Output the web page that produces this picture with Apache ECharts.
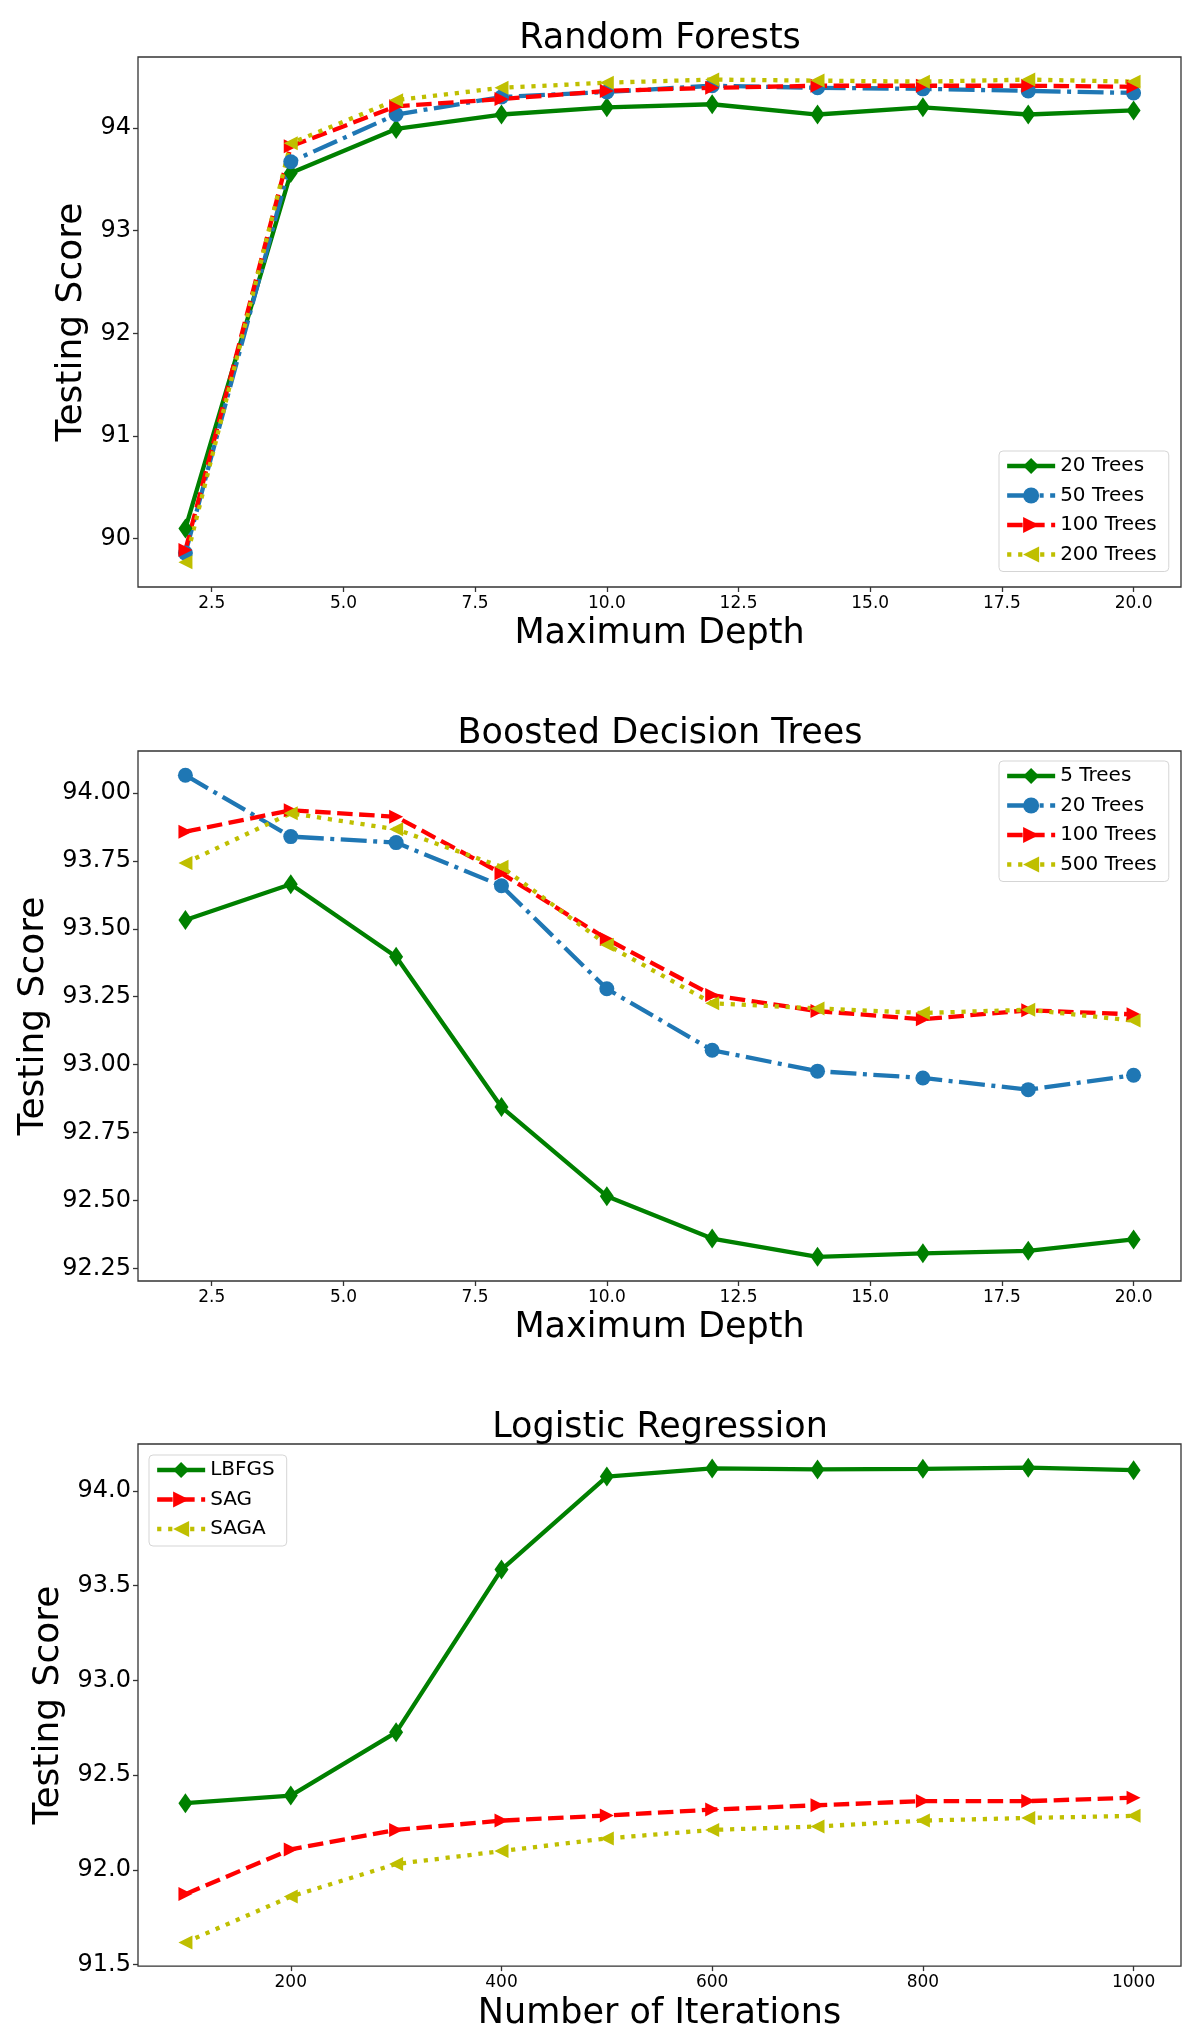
<!DOCTYPE html>
<html>
<head>
<meta charset="utf-8">
<title>Testing Score</title>
<script src="https://cdn.jsdelivr.net/npm/echarts@6/dist/echarts.min.js"></script>
<style>
    body { margin: 0; background: #fff; }
    .chart { position: absolute; left: 0; width: 1200px; }
</style>
</head>
<body>
<div id="rfChart" class="chart" style="top:0;height:680px"></div>
<div id="bdtChart" class="chart" style="top:680px;height:690px"></div>
<div id="lrChart" class="chart" style="top:1370px;height:666px"></div>
<script>
// ---------- data ----------
var depths = [2, 4, 6, 8, 10, 12, 14, 16, 18, 20];
var iterations = [100, 200, 300, 400, 500, 600, 700, 800, 900, 1000];

// Random Forests
var rf20 = [90.10, 93.56, 93.99, 94.13, 94.20, 94.23, 94.13, 94.20, 94.13, 94.17];
var rf50 = [89.86, 93.67, 94.13, 94.30, 94.35, 94.41, 94.39, 94.38, 94.36, 94.34];
var rf100 = [89.89, 93.82, 94.21, 94.28, 94.36, 94.39, 94.41, 94.41, 94.41, 94.40];
var rf200 = [89.77, 93.85, 94.27, 94.39, 94.44, 94.47, 94.46, 94.45, 94.47, 94.45];

// Boosted Decision Trees
var bdt5 = [93.532, 93.664, 93.397, 92.844, 92.516, 92.360, 92.293, 92.306, 92.315, 92.357];
var bdt20 = [94.065, 93.839, 93.817, 93.658, 93.279, 93.053, 92.976, 92.951, 92.908, 92.961];
var bdt100 = [93.857, 93.936, 93.912, 93.704, 93.462, 93.256, 93.197, 93.167, 93.200, 93.185];
var bdt500 = [93.742, 93.925, 93.866, 93.728, 93.441, 93.226, 93.207, 93.190, 93.202, 93.162];

// Logistic Regression
var lbfgs = [92.352, 92.392, 92.726, 93.585, 94.076, 94.119, 94.114, 94.117, 94.123, 94.110];
var sag = [91.872, 92.108, 92.211, 92.260, 92.287, 92.318, 92.341, 92.363, 92.363, 92.381];
var saga = [91.617, 91.859, 92.031, 92.099, 92.166, 92.211, 92.229, 92.260, 92.274, 92.285];

// tick labels
var depthTicks = [2.5, 5.0, 7.5, 10.0, 12.5, 15.0, 17.5, 20.0];
var iterTicks = [200, 400, 600, 800, 1000];
var rfScoreTicks = [90, 91, 92, 93, 94];
var bdtScoreTicks = [92.25, 92.50, 92.75, 93.00, 93.25, 93.50, 93.75, 94.00];
var lrScoreTicks = [91.5, 92.0, 92.5, 93.0, 93.5, 94.0];

// ---------- styles ----------
var FONT = 'DejaVu Sans';
var GREEN = '#008000', BLUE = '#1f77b4', RED = '#ff0000', YELLOW = '#bfbf00';
var DIAMOND = 'path://M0,-10L6.5,0L0,10L-6.5,0Z';
var RIGHT_TRI = 'path://M-10,-10L10,0L-10,10Z';
var LEFT_TRI = 'path://M10,-10L-10,0L10,10Z';

var styles = {
    green: { color: GREEN, symbol: DIAMOND, size: [14, 20], dash: 'solid' },
    blue: { color: BLUE, symbol: 'circle', size: 15, dash: [26, 6.5, 4, 6.5] },
    red: { color: RED, symbol: RIGHT_TRI, size: 14, dash: [15.5, 6.5] },
    yellow: { color: YELLOW, symbol: LEFT_TRI, size: 14, dash: [4.2, 6.8] }
};

function makeSeries(name, xs, ys, st) {
    return {
        type: 'line',
        name: name,
        data: xs.map(function (x, i) { return [x, ys[i]]; }),
        symbol: st.symbol,
        symbolSize: st.size,
        showAllSymbol: true,
        itemStyle: { color: st.color },
        lineStyle: { color: st.color, width: 4.3, type: st.dash },
        emphasis: { disabled: true }
    };
}

function makeAxis(opt) {
    return {
        type: 'value',
        min: opt.min,
        max: opt.max,
        name: opt.name,
        nameLocation: 'middle',
        nameGap: opt.nameGap,
        nameTextStyle: { fontSize: opt.nameSize, color: '#000', fontFamily: FONT },
        axisLine: { show: false },
        splitLine: { show: false },
        axisTick: {
            show: true,
            length: 5,
            customValues: opt.ticks,
            lineStyle: { color: '#333', width: 1.3 }
        },
        axisLabel: {
            customValues: opt.ticks,
            formatter: function (v) { return Number(v).toFixed(opt.digits); },
            fontSize: opt.fontSize,
            color: '#000',
            fontFamily: FONT,
            margin: opt.margin
        }
    };
}

function makeOption(cfg) {
    return {
        animation: false,
        title: {
            text: cfg.title,
            left: 660,
            top: cfg.titleTop,
            textAlign: 'center',
            padding: 0,
            textStyle: { fontSize: 35, fontWeight: 'normal', color: '#000', fontFamily: FONT, lineHeight: 40 }
        },
        grid: {
            left: 138,
            top: cfg.gridTop,
            width: 1043,
            height: cfg.gridHeight,
            show: true,
            borderColor: '#333',
            borderWidth: 1.3,
            backgroundColor: 'transparent'
        },
        legend: {
            orient: 'vertical',
            left: cfg.legendLeft,
            top: cfg.legendTop,
            data: cfg.series.map(function (s) { return s.name; }),
            itemWidth: 48,
            itemHeight: 20,
            itemGap: 9.5,
            padding: [5, 12, 7, 6],
            backgroundColor: '#fff',
            borderColor: '#d5d5d5',
            borderWidth: 1,
            borderRadius: 4,
            selectedMode: false,
            lineStyle: { width: 4.3 },
            textStyle: { fontSize: 20, color: '#000', fontFamily: FONT, lineHeight: 20 }
        },
        xAxis: makeAxis(cfg.x),
        yAxis: makeAxis(cfg.y),
        series: cfg.series
    };
}

/* ---------- Random Forests ---------- */
var rfChart = echarts.init(document.getElementById('rfChart'));
rfChart.setOption(makeOption({
    title: 'Random Forests',
    titleTop: 18.5,
    gridTop: 57,
    gridHeight: 530,
    legendLeft: 999,
    legendTop: 451,
    x: { min: 1.1, max: 20.9, ticks: depthTicks, digits: 1, fontSize: 17, margin: 8, name: 'Maximum Depth', nameGap: 28, nameSize: 35 },
    y: { min: 89.53, max: 94.69, ticks: rfScoreTicks, digits: 0, fontSize: 24, margin: 7, name: 'Testing Score', nameGap: 42, nameSize: 36 },
    series: [
        makeSeries('20 Trees', depths, rf20, styles.green),
        makeSeries('50 Trees', depths, rf50, styles.blue),
        makeSeries('100 Trees', depths, rf100, styles.red),
        makeSeries('200 Trees', depths, rf200, styles.yellow)
    ]
}));

/* ---------- Boosted Decision Trees ---------- */
var bdtChart = echarts.init(document.getElementById('bdtChart'));
bdtChart.setOption(makeOption({
    title: 'Boosted Decision Trees',
    titleTop: 33.5,
    gridTop: 71,
    gridHeight: 530,
    legendLeft: 999,
    legendTop: 81,
    x: { min: 1.1, max: 20.9, ticks: depthTicks, digits: 1, fontSize: 17, margin: 8, name: 'Maximum Depth', nameGap: 28, nameSize: 35 },
    y: { min: 92.204, max: 94.154, ticks: bdtScoreTicks, digits: 2, fontSize: 24, margin: 7, name: 'Testing Score', nameGap: 80, nameSize: 36 },
    series: [
        makeSeries('5 Trees', depths, bdt5, styles.green),
        makeSeries('20 Trees', depths, bdt20, styles.blue),
        makeSeries('100 Trees', depths, bdt100, styles.red),
        makeSeries('500 Trees', depths, bdt500, styles.yellow)
    ]
}));

/* ---------- Logistic Regression ---------- */
var lrChart = echarts.init(document.getElementById('lrChart'));
lrChart.setOption(makeOption({
    title: 'Logistic Regression',
    titleTop: 37.5,
    gridTop: 74,
    gridHeight: 531,
    legendLeft: 149,
    legendTop: 85,
    x: { min: 55, max: 1045, ticks: iterTicks, digits: 0, fontSize: 17, margin: 8, name: 'Number of Iterations', nameGap: 28, nameSize: 35 },
    y: { min: 91.492, max: 94.248, ticks: lrScoreTicks, digits: 1, fontSize: 24, margin: 7, name: 'Testing Score', nameGap: 66, nameSize: 36 },
    series: [
        makeSeries('LBFGS', iterations, lbfgs, styles.green),
        makeSeries('SAG', iterations, sag, styles.red),
        makeSeries('SAGA', iterations, saga, styles.yellow)
    ]
}));
</script>
</body>
</html>
